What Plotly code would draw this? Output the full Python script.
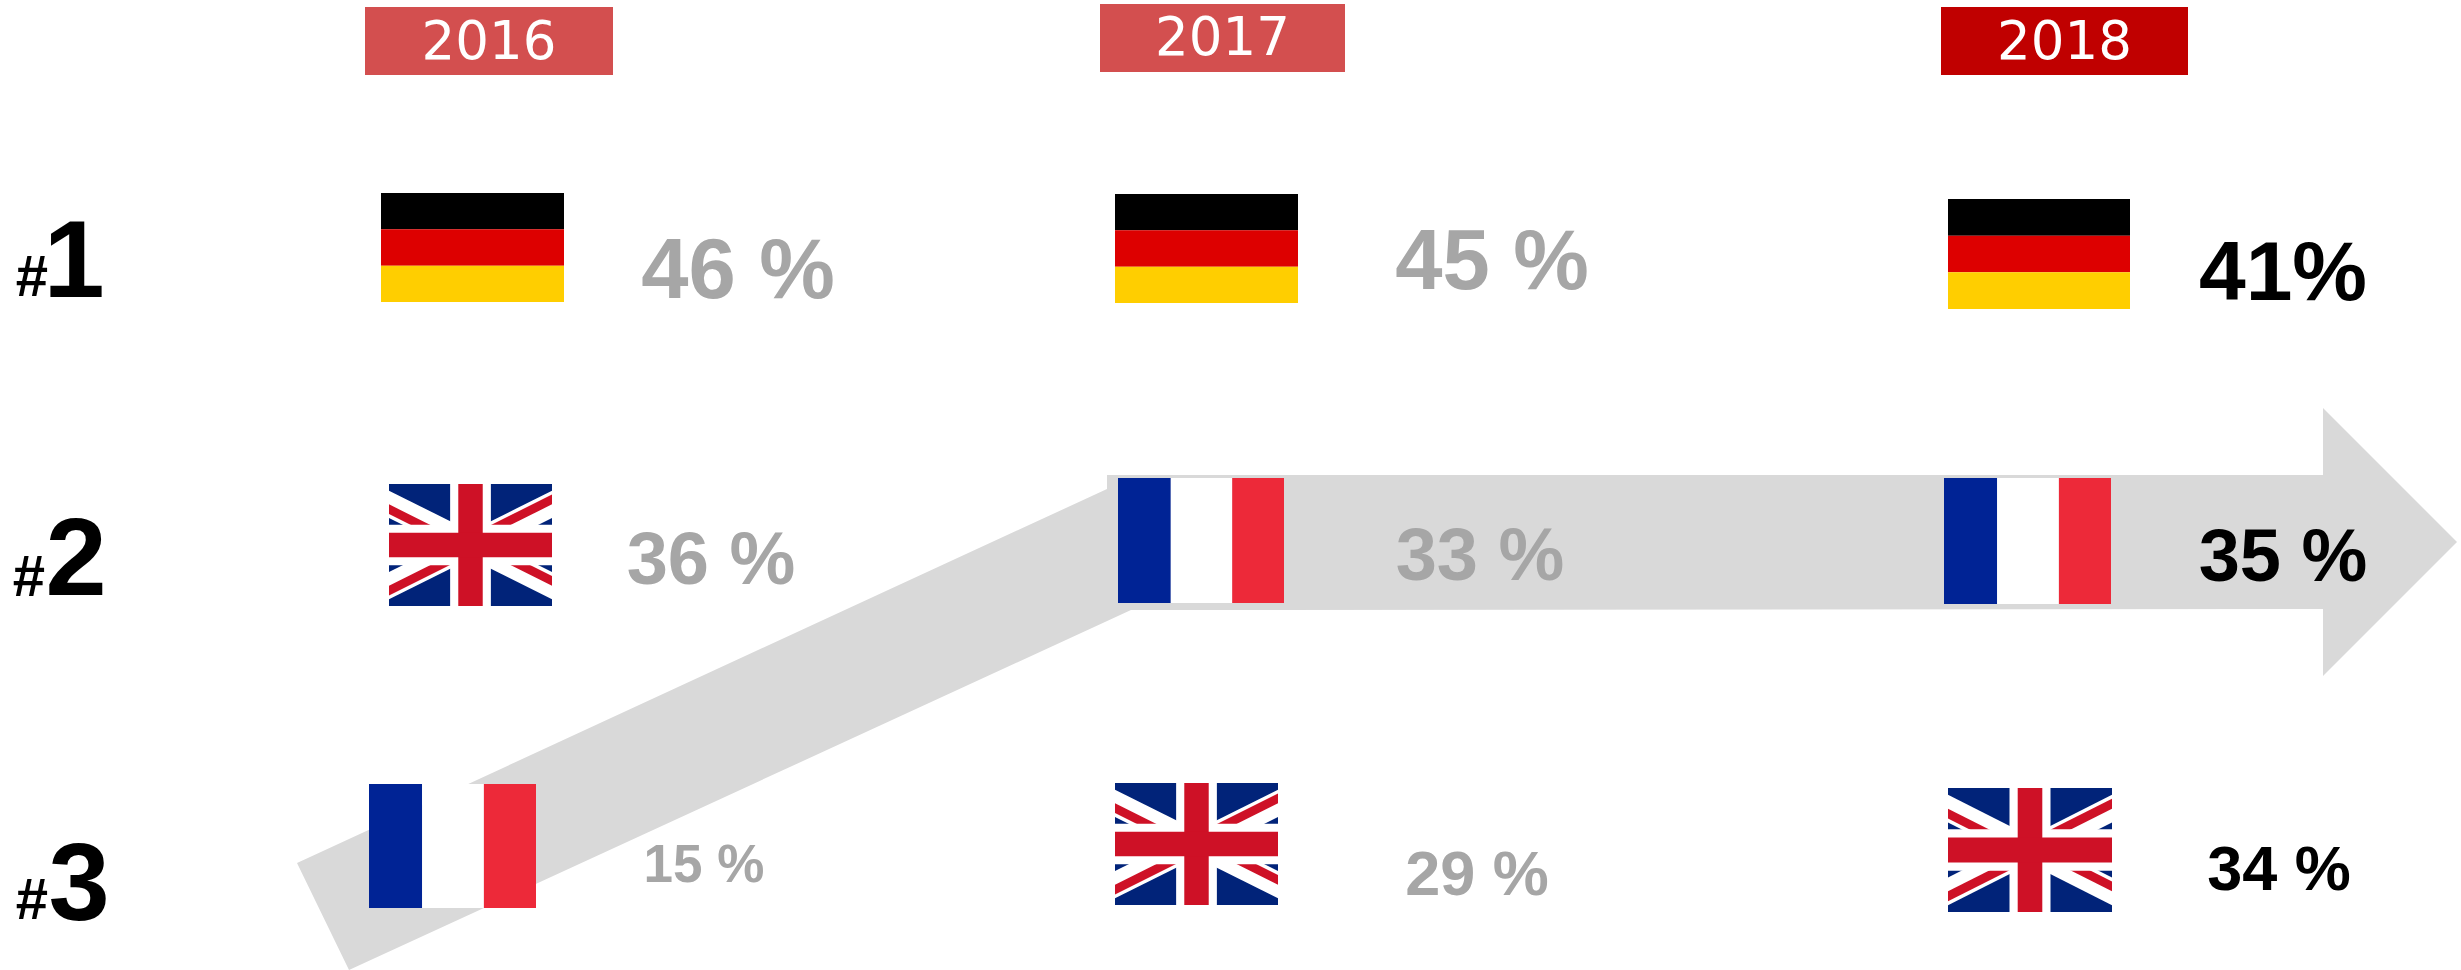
import plotly.graph_objects as go

# ---- data ----
years = ["2016", "2017", "2018"]
ranks = ["1", "2", "3"]
countries_2016 = ["Germany", "UK", "France"]
countries_2017 = ["Germany", "France", "UK"]
countries_2018 = ["Germany", "France", "UK"]
labels_2016 = ["46 %", "36 %", "15 %"]
labels_2017 = ["45 %", "33 %", "29 %"]
labels_2018 = ["41%", "35 %", "34 %"]

# ---- layout / style ----
W, H = 2461, 970
GRAY_TXT, ARROW = "#A6A6A6", "#D9D9D9"
HEADER_COL = ["#D34F4F", "#D34F4F", "#C00000"]
HEADER_BOX = [(365, 613, 7, 75), (1100, 1345, 4, 72), (1941, 2188, 7, 75)]
HEADER_TXT_Y = [46, 42, 46]
FLAG_BOX = [
    [(381, 564, 193, 302), (389, 552, 484, 606), (369, 536, 784, 908)],
    [(1115, 1298, 194, 303), (1118, 1284, 478, 603), (1115, 1278, 783, 905)],
    [(1948, 2130, 199, 309), (1944, 2111, 478, 604), (1948, 2112, 788, 912)],
]
# centre x, centre y, font size per label
LABEL_POS = [
    [(738, 277, 85), (711, 565, 74), (704, 869, 53)],
    [(1492, 268, 85), (1480, 561, 74), (1477, 879, 63)],
    [(2283, 279, 84), (2283, 562, 74), (2279, 874, 63)],
]
LABEL_COL = [GRAY_TXT, GRAY_TXT, "#000000"]
RANK_POS = [((32, 281), (74, 269)), ((29, 581), (76, 567)), ((32, 904), (79, 892))]
ARROW_X = [297, 1107, 1107, 2323, 2323, 2457, 2323, 2323, 1131, 349, 297]
ARROW_Y = [863, 489, 475, 475, 408, 542, 676, 609, 610, 970, 863]

fig = go.Figure()


def poly(xs, ys, color):
    fig.add_trace(go.Scatter(x=xs, y=ys, mode="lines", fill="toself", fillcolor=color,
                             line=dict(width=0, color=color), hoverinfo="skip", showlegend=False))


def rect(x0, x1, y0, y1, color):
    poly([x0, x1, x1, x0, x0], [y0, y0, y1, y1, y0], color)


def text(x, y, s, size, color, bold=True, family="Liberation Sans"):
    fig.add_trace(go.Scatter(x=[x], y=[y], mode="text", text=[s], textposition="middle center",
                             textfont=dict(family=family, size=size, color=color,
                                           weight="bold" if bold else "normal"),
                             hoverinfo="skip", showlegend=False))


def germany(x0, x1, y0, y1):
    h = (y1 - y0) / 3
    for i, c in enumerate(["#000000", "#DD0000", "#FFCE00"]):
        rect(x0, x1, y0 + i * h, y0 + (i + 1) * h, c)


def france(x0, x1, y0, y1):
    a, b = x0 + (x1 - x0) * 0.318, x0 + (x1 - x0) * 0.688
    rect(x0, a, y0, y1, "#002395")
    rect(a, b, y0, y1, "#FFFFFF")
    rect(b, x1, y0, y1, "#ED2939")


def uk(x0, x1, y0, y1):
    # classic 60x30 union flag geometry, cropped to x in 10..50
    sx, sy = (x1 - x0) / 40, (y1 - y0) / 30
    def p(pts, color):
        poly([x0 + (u - 10) * sx for u, v in pts] + [x0 + (pts[0][0] - 10) * sx],
             [y0 + v * sy for u, v in pts] + [y0 + pts[0][1] * sy], color)
    navy, red, white = "#012379", "#CE1126", "#FFFFFF"
    wd, rd = 3.354, 2.4
    p([(10, 0), (50, 0), (50, 30), (10, 30)], navy)
    p([(10, 5 - wd), (50, 25 - wd), (50, 25 + wd), (10, 5 + wd)], white)
    p([(10, 25 - wd), (50, 5 - wd), (50, 5 + wd), (10, 25 + wd)], white)
    p([(10, 5), (30, 15), (30, 15 + rd), (10, 5 + rd)], red)
    p([(30, 15), (50, 25), (50, 25 - rd), (30, 15 - rd)], red)
    p([(30, 15), (50, 5), (50, 5 - rd), (30, 15 - rd)], red)
    p([(10, 25), (30, 15), (30, 15 + rd), (10, 25 + rd)], red)
    p([(25, 0), (35, 0), (35, 30), (25, 30)], white)
    p([(10, 10), (50, 10), (50, 20), (10, 20)], white)
    p([(27, 0), (33, 0), (33, 30), (27, 30)], red)
    p([(10, 12), (50, 12), (50, 18), (10, 18)], red)


FLAG = {"Germany": germany, "France": france, "UK": uk}

poly(ARROW_X, ARROW_Y, ARROW)

for i, year in enumerate(years):
    x0, x1, y0, y1 = HEADER_BOX[i]
    rect(x0, x1, y0, y1, HEADER_COL[i])
    text((x0 + x1) / 2, HEADER_TXT_Y[i], year, 53, "#FFFFFF", bold=False, family="DejaVu Sans")

for i, (cs, ls) in enumerate(zip([countries_2016, countries_2017, countries_2018],
                                 [labels_2016, labels_2017, labels_2018])):
    for j, (c, l) in enumerate(zip(cs, ls)):
        FLAG[c](*FLAG_BOX[i][j])
        x, y, size = LABEL_POS[i][j]
        text(x, y, l, size, LABEL_COL[i])

for r, (h_pos, d_pos) in zip(ranks, RANK_POS):
    text(h_pos[0], h_pos[1], "#", 58, "#000000")
    text(d_pos[0], d_pos[1], r, 110, "#000000")

fig.update_layout(width=W, height=H, autosize=False, margin=dict(l=0, r=0, t=0, b=0),
                  paper_bgcolor="#FFFFFF", plot_bgcolor="#FFFFFF", showlegend=False,
                  xaxis=dict(range=[0, W], visible=False, fixedrange=True),
                  yaxis=dict(range=[H, 0], visible=False, fixedrange=True))

fig.write_html("out.html", config={"displayModeBar": False},
               post_script="document.body.style.margin='0';document.body.style.overflow='hidden';")
